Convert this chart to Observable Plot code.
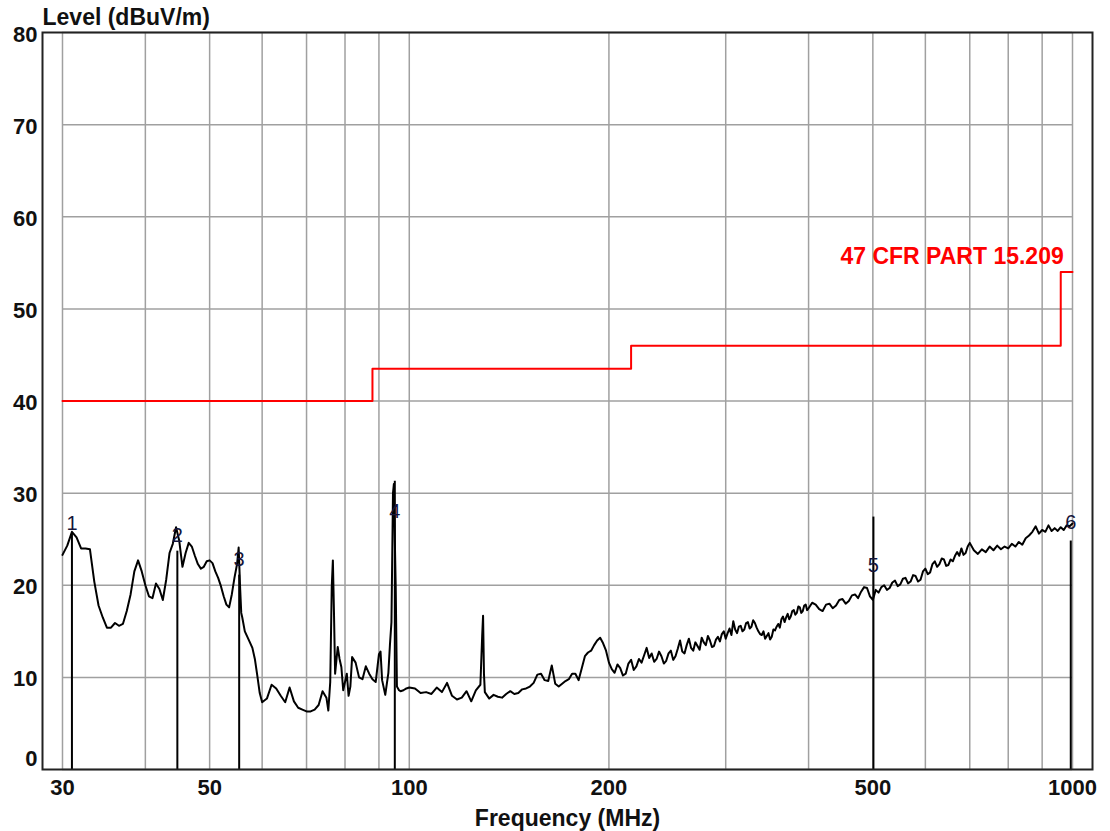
<!DOCTYPE html>
<html><head><meta charset="utf-8">
<script src="https://cdn.jsdelivr.net/npm/d3@7"></script>
<script src="https://cdn.jsdelivr.net/npm/@observablehq/plot@0.6"></script>
<style>body{margin:0;background:#fff;} svg{display:block}</style>
</head><body><div id="chart"></div>
<script>
// ---- data ----
const xGrid = [30,40,50,60,70,80,90,100,200,300,400,500,600,700,800,900,1000];
const yGrid = [0,10,20,30,40,50,60,70,80];
const xTickLabels = [30,50,100,200,500,1000];
const yTickLabels = [10,20,30,40,50,60,70,80];
const yZeroLabel = [0];
const xTitle = "Frequency (MHz)";
const yTitle = "Level (dBuV/m)";

const limitFreq  = [30, 88, 216, 960, 1000];
const limitLevel = [40, 43.5, 46, 54, 54];
const limitName = "47 CFR PART 15.209";

const markerNo    = ["1","2","3","4","5","6"];
const markerFreq  = [31.0, 44.7, 55.4, 95.1, 501, 994];
const markerLevel = [25.6, 23.7, 21.1, 31.3, 27.4, 24.8];
const markerLabelLevel = [26.7, 25.4, 22.8, 28.0, 22.1, 26.8];

// measured trace [MHz, dBuV/m]
const traceA = [[30,23.3],[30.5,24.3],[31,25.8],[31.5,25.2],[32,24.0],[32.5,24.0],[33,23.9],[33.5,20.4],[34,17.8],[34.5,16.5],[35,15.4],[35.5,15.4],[36,15.9],[36.5,15.6],[37,15.8],[37.5,17.2],[38,19.0],[38.5,21.5],[39,22.7],[39.5,21.5],[40,20.0],[40.5,18.8],[41,18.6],[41.5,20.2],[42,19.6],[42.5,18.4],[43,20.6],[43.5,23.5],[44,24.5],[44.5,26.3],[45,24.8],[45.5,22.0],[46,23.5],[46.5,24.6],[47,24.2],[47.5,23.2],[48,22.3],[48.5,21.8],[49,22.0],[49.5,22.6],[50,22.7],[50.5,22.4],[51,21.5],[51.5,20.8],[52,19.9],[52.5,18.8],[53,17.9],[53.5,17.6],[54,19.0],[54.5,20.8],[55,22.3],[55.3,24.1],[55.6,19.5],[55.8,17.0],[56,16.5],[56.5,15.0],[57,14.4],[57.5,13.8],[58,13.2],[58.5,12.0],[59,10.2],[59.5,8.3]];
const traceB = [[60,7.3],[61,7.7],[62,9.2],[63,8.8],[64,8.0],[65,7.3],[66,8.9],[67,7.4],[68,6.7],[69,6.5],[70,6.3],[71,6.3],[72,6.5],[73,7.0],[74,8.5],[75,7.8],[75.5,6.4],[76,9.5],[76.4,19.8],[76.7,22.7],[77,16.9],[77.3,10.4],[78,13.3],[78.5,12.0],[79,11.1],[79.5,8.6],[80,9.5],[80.5,10.4],[81,8.0],[81.5,9.0],[82,12.2],[83,11.6],[84,10.0],[85,9.8],[86,11.2],[87,10.4],[88,9.8],[89,9.5],[90,12.5],[90.5,12.8],[91,9.7],[92,8.1],[93,10.5],[93.5,13.5],[94,16.0],[94.5,30.0],[94.8,31.0],[95.1,25.0],[95.4,19.8],[95.8,9.0],[96.5,8.6],[97,8.5],[98,8.6],[99,8.8]];
const traceC = [[100,8.9],[102,8.8],[104,8.3],[106,8.4],[108,8.2],[110,8.9],[112,8.4],[114,9.4],[116,8.0],[118,7.6],[120,7.8],[122,8.5],[124,7.4],[126,8.6],[128,9.2],[128.8,14.5],[129.2,16.7],[129.6,10.4],[130,8.4],[132,7.7],[134,8.1],[136,7.9],[138,7.8],[140,8.2],[142,8.5],[144,8.2],[146,8.3],[148,8.7],[150,8.8],[152,9.0],[154,9.4],[156,10.3],[158,10.4],[160,9.7],[162,9.6],[164,11.3],[166,9.3],[168,9.0],[170,9.3],[172,9.6],[174,9.8],[176,10.4],[178,10.4],[180,9.7],[182,11.0],[184,12.3],[186,12.7],[188,12.9],[190,13.5],[192,14.0],[194,14.3],[196,13.7],[198,12.9]];
const traceD = [[200,11.6],[202,10.9],[204,10.5],[206,11.4],[208,11.0],[210,10.2],[212,10.4],[214,11.5],[216,11.9],[218,10.8],[220,11.2],[222,12.0],[224,11.6],[226,12.4],[228,13.2],[230,12.1],[232,12.6],[234,11.7],[236,12.0],[238,12.8],[240,12.3],[242,11.5],[244,11.8],[246,12.6],[248,12.9],[250,11.9],[252,12.3],[254,13.1],[256,14.0],[258,12.8],[260,12.6],[262,13.5],[264,14.2],[266,13.2],[268,12.9],[270,13.8],[272,13.4],[274,13.0],[276,14.3],[278,13.8],[280,13.5],[282,14.5],[284,14.0],[286,13.3],[288,13.4],[290,14.1],[292,14.4],[294,13.9],[296,14.7],[298,15.0],[300,14.2],[302,14.8],[304,15.3],[306,14.6],[308,16.1],[310,15.2],[312,14.8],[314,15.5],[316,15.6],[318,15.0],[320,15.2],[322,15.9],[324,16.0],[326,15.3],[328,15.5],[330,16.2],[332,15.9],[334,15.4],[336,15.0],[338,14.7],[340,14.6],[342,15.0],[344,14.2],[346,14.5],[348,14.8],[350,14.1],[352,14.4],[354,15.2],[356,15.1],[358,15.5],[360,15.8],[362,15.4],[364,16.3],[366,16.6],[368,16.0],[370,16.5],[372,16.9],[374,16.3],[376,16.6],[378,17.2],[380,17.3],[382,16.8],[384,17.0],[386,17.7],[388,17.6],[390,17.0],[392,17.2],[394,17.8],[396,17.9],[398,17.3]];
const traceE = [[400,17.5],[405,18.1],[410,17.9],[415,17.4],[420,17.2],[425,17.9],[430,18.0],[435,17.5],[440,17.8],[445,18.4],[450,18.5],[455,18.0],[460,18.3],[465,18.9],[470,19.0],[475,18.6],[480,19.3],[485,19.8],[490,19.7],[495,18.8],[500,18.4],[505,19.5],[510,19.2],[515,19.8],[520,20.0],[525,19.5],[530,19.7],[535,20.3],[540,20.5],[545,19.9],[550,20.1],[555,20.7],[560,20.8],[565,20.2],[570,20.4],[575,21.1],[580,21.0],[585,20.4],[590,20.6],[595,21.5],[600,21.8],[605,21.2],[610,21.4],[615,22.3],[620,22.6],[625,22.0],[630,22.3],[635,22.9],[640,22.8],[645,22.1],[650,22.2],[655,22.8],[660,22.6],[665,23.2],[670,23.6],[675,23.2],[680,24.0],[685,23.3],[690,23.5],[695,24.2],[700,24.6],[710,23.8],[720,23.4],[730,23.9],[740,23.6],[750,24.2],[760,23.8],[770,24.3],[780,23.9],[790,24.2],[800,24.0],[810,24.5],[820,24.2],[830,24.7],[840,24.4],[850,25.1],[860,25.4],[870,25.8],[880,26.4],[890,25.6],[900,26.0],[910,25.8],[920,26.5],[930,25.9],[940,26.2],[950,25.9],[960,26.3],[970,26.0],[980,26.5],[990,26.4],[1000,26.7]];

// ---- build ----
const trace = [...traceA, ...traceB, ...traceC, ...traceD, ...traceE].map(([f, v]) => ({f, v}));
const limit = limitFreq.map((f, i) => ({f, v: limitLevel[i]}));
const markers = markerNo.map((n, i) => ({n, f: markerFreq[i], v: markerLevel[i], lab: markerLabelLevel[i]}));

const font = "'Liberation Sans', Arial, Helvetica, sans-serif";
const gridStyle = {stroke: "#a0a0a0", strokeWidth: 1.5};
const labelStyle = {fontFamily: font, fontWeight: "bold", fontSize: 22, fill: "#111", lineAnchor: "middle"};

const chart = Plot.plot({
  width: 1110, height: 831,
  marginTop: 32, marginBottom: 62, marginLeft: 42, marginRight: 18,
  style: {fontFamily: font, background: "#fff"},
  x: {type: "log", domain: [27.988, 1071.9], axis: null},
  y: {domain: [0, 80], axis: null},
  marks: [
    Plot.ruleX(xGrid, {x: d => d, y1: 0, y2: 80, ...gridStyle}),
    Plot.ruleY(yGrid, {y: d => d, x1: 30, x2: 1000, ...gridStyle}),
    Plot.line(limit, {x: "f", y: "v", curve: "step-after", stroke: "#ff0000", strokeWidth: 2}),
    Plot.text([limitName], {x: limitFreq[3], y: limitLevel[3], text: d => d, textAnchor: "end", dx: 3, dy: -15, ...labelStyle, fontSize: 23, fill: "#ff0000"}),
    Plot.line(trace, {x: "f", y: "v", stroke: "#000", strokeWidth: 2}),
    Plot.ruleX(markers, {x: "f", y1: 0, y2: "v", stroke: "#000", strokeWidth: 2}),
    Plot.text(markers, {x: "f", y: "lab", text: "n", fontFamily: font, fontSize: 20, fill: "#15153a"}),
    Plot.frame({stroke: "#222", strokeWidth: 2}),
    Plot.text(yTickLabels, {y: d => d, text: d => String(d), frameAnchor: "left", textAnchor: "end", dx: -5, dy: 2, ...labelStyle}),
    Plot.text(yZeroLabel, {y: d => d, text: d => String(d), frameAnchor: "left", textAnchor: "end", dx: -5, dy: -11, ...labelStyle}),
    Plot.text(xTickLabels, {x: d => d, text: d => String(d), frameAnchor: "bottom", dy: 18, ...labelStyle}),
    Plot.text([xTitle], {text: d => d, frameAnchor: "bottom", dy: 49, ...labelStyle, fontSize: 23}),
    Plot.text([yTitle], {text: d => d, frameAnchor: "top-left", textAnchor: "start", dy: -15, ...labelStyle, fontSize: 23})
  ]
});
document.getElementById("chart").appendChild(chart);
</script>
</body></html>
